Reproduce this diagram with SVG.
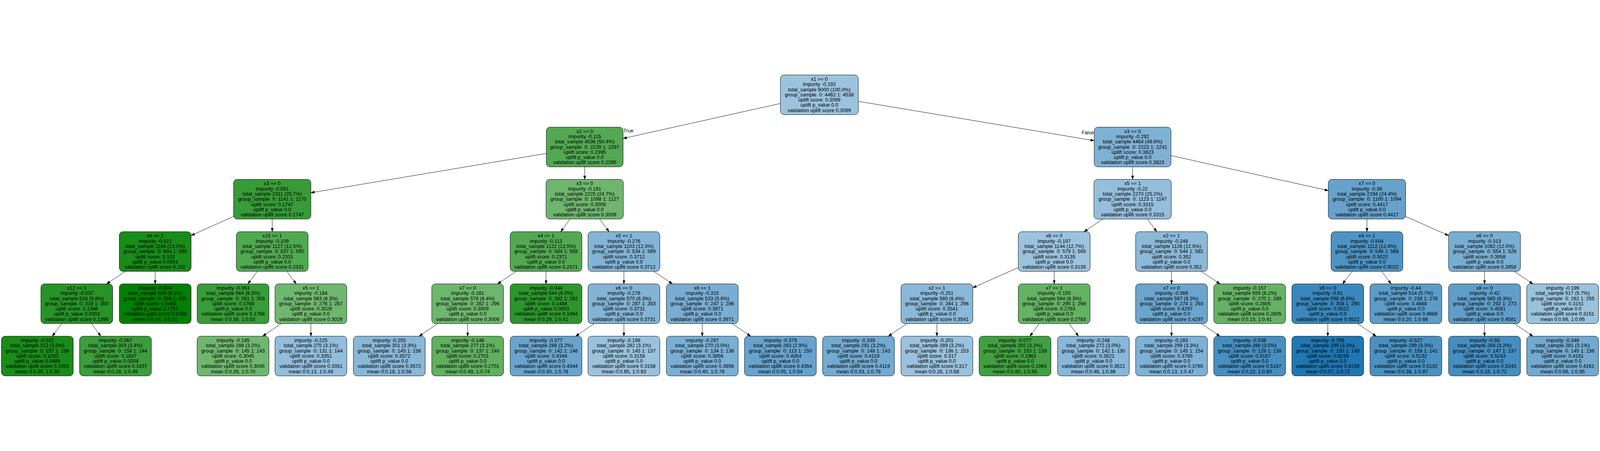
<svg xmlns="http://www.w3.org/2000/svg" width="6083" height="1155" viewBox="0 0 6083 1155">
<style>
svg:root{width:100vw;height:100vh}
.node rect{stroke:#000;stroke-width:1.4}
.node text,.elabel{font-family:"Liberation Sans",Arial,Helvetica,sans-serif;font-size:19px;fill:#000}
.node text{text-anchor:middle}
#edges line{stroke:#000;stroke-width:1.4;marker-end:url(#arr)}
</style>
<defs>
<marker id="arr" viewBox="0 0 14 10" refX="14" refY="5" markerWidth="14" markerHeight="10" markerUnits="userSpaceOnUse" orient="auto"><path d="M0,0.2 L14,5 L0,9.8 z" fill="#000" stroke="#000" stroke-width="1"/></marker>
</defs>
<rect width="6083" height="1155" fill="#fff"/>
<g id="edges">
<line x1="2967" y1="113.4" x2="2369" y2="246.5"/>
<line x1="3263" y1="105.2" x2="4160" y2="254.7"/>
<line x1="2077" y1="303.4" x2="1182" y2="452.9"/>
<line x1="2223" y1="354.5" x2="2223" y2="402"/>
<line x1="4306" y1="354.5" x2="4306" y2="402"/>
<line x1="4452" y1="311.5" x2="5050" y2="444.7"/>
<line x1="888" y1="543.1" x2="726.5" y2="615.6"/>
<line x1="1035" y1="553" x2="1035" y2="601"/>
<line x1="2167.1" y1="553" x2="2131.9" y2="601"/>
<line x1="2279.6" y1="553" x2="2315.4" y2="601"/>
<line x1="4192.6" y1="553" x2="4121.4" y2="601"/>
<line x1="4362.3" y1="553" x2="4397.7" y2="601"/>
<line x1="5197" y1="553" x2="5197" y2="601"/>
<line x1="5344" y1="542.8" x2="5507.5" y2="615.9"/>
<line x1="476.6" y1="752" x2="405.4" y2="799.5"/>
<line x1="590" y1="752" x2="590" y2="799.5"/>
<line x1="978.4" y1="752" x2="942.6" y2="799.5"/>
<line x1="1090.9" y1="752" x2="1126.1" y2="799.5"/>
<line x1="1962.6" y1="752" x2="1891.4" y2="799.5"/>
<line x1="2076" y1="752" x2="2076" y2="799.5"/>
<line x1="2372" y1="752" x2="2372" y2="799.5"/>
<line x1="2485.4" y1="752" x2="2556.6" y2="799.5"/>
<line x1="3871.5" y1="737.3" x2="3698.5" y2="814.2"/>
<line x1="4008" y1="752" x2="4008" y2="799.5"/>
<line x1="4454" y1="752" x2="4454" y2="799.5"/>
<line x1="4566.9" y1="752" x2="4638.1" y2="799.5"/>
<line x1="5140.4" y1="752" x2="5104.6" y2="799.5"/>
<line x1="5253.3" y1="752" x2="5288.7" y2="799.5"/>
<line x1="5644" y1="752" x2="5644" y2="799.5"/>
<line x1="5757" y1="752" x2="5828" y2="799.5"/>
<line x1="235" y1="950.5" x2="199" y2="998.5"/>
<line x1="347.9" y1="950.5" x2="383.1" y2="998.5"/>
<line x1="1069.4" y1="950.5" x2="998.6" y2="998.5"/>
<line x1="1182" y1="950.5" x2="1182" y2="998.5"/>
<line x1="1664.6" y1="950.5" x2="1593.4" y2="998.5"/>
<line x1="1778" y1="950.5" x2="1778" y2="998.5"/>
<line x1="2259.4" y1="950.5" x2="2188.6" y2="998.5"/>
<line x1="2372" y1="950.5" x2="2372" y2="998.5"/>
<line x1="2670" y1="950.5" x2="2670" y2="998.5"/>
<line x1="2783" y1="950.5" x2="2854" y2="998.5"/>
<line x1="3448.6" y1="950.5" x2="3377.4" y2="998.5"/>
<line x1="3562" y1="950.5" x2="3562" y2="998.5"/>
<line x1="3951.4" y1="950.5" x2="3915.6" y2="998.5"/>
<line x1="4064.6" y1="950.5" x2="4100.4" y2="998.5"/>
<line x1="4454" y1="950.5" x2="4454" y2="998.5"/>
<line x1="4567" y1="950.5" x2="4638" y2="998.5"/>
<line x1="5048" y1="950.5" x2="5048" y2="998.5"/>
<line x1="5161" y1="950.5" x2="5232" y2="998.5"/>
<line x1="5644" y1="950.5" x2="5644" y2="998.5"/>
<line x1="5757" y1="950.5" x2="5828" y2="998.5"/>
<text class="elabel" x="2370" y="223">True</text>
<text class="elabel" x="4159" y="231" text-anchor="end">False</text>
</g>

<g id="n0" class="node"><rect x="2967" y="5" width="296" height="151" rx="14" fill="#9cc3de"/><text x="3115" y="27.5"><tspan x="3115">x1 == 0</tspan><tspan x="3115" dy="19.7">impurity -0.192</tspan><tspan x="3115" dy="19.7">total_sample 9000 (100.0%)</tspan><tspan x="3115" dy="19.7">group_sample&#160; 0: 4462 1: 4538</tspan><tspan x="3115" dy="19.7">uplift score: 0.3099</tspan><tspan x="3115" dy="19.7">uplift p_value 0.0</tspan><tspan x="3115" dy="19.7">validation uplift score 0.3099</tspan></text></g>

<g id="n1a" class="node"><rect x="2077" y="203.5" width="292" height="151" rx="14" fill="#53a953"/><text x="2223" y="226"><tspan x="2223">x2 == 0</tspan><tspan x="2223" dy="19.7">impurity -0.115</tspan><tspan x="2223" dy="19.7">total_sample 4536 (50.4%)</tspan><tspan x="2223" dy="19.7">group_sample&#160; 0: 2239 1: 2297</tspan><tspan x="2223" dy="19.7">uplift score: 0.2395</tspan><tspan x="2223" dy="19.7">uplift p_value 0.0</tspan><tspan x="2223" dy="19.7">validation uplift score 0.2395</tspan></text></g>
<g id="n1b" class="node"><rect x="4160" y="203.5" width="292" height="151" rx="14" fill="#7fb1d4"/><text x="4306" y="226"><tspan x="4306">x3 == 0</tspan><tspan x="4306" dy="19.7">impurity -0.292</tspan><tspan x="4306" dy="19.7">total_sample 4464 (49.6%)</tspan><tspan x="4306" dy="19.7">group_sample&#160; 0: 2223 1: 2241</tspan><tspan x="4306" dy="19.7">uplift score: 0.3823</tspan><tspan x="4306" dy="19.7">uplift p_value 0.0</tspan><tspan x="4306" dy="19.7">validation uplift score 0.3823</tspan></text></g>

<g id="n2a" class="node"><rect x="888" y="402" width="294" height="151" rx="14" fill="#379b37"/><text x="1035" y="424.5"><tspan x="1035">x3 == 0</tspan><tspan x="1035" dy="19.7">impurity -0.061</tspan><tspan x="1035" dy="19.7">total_sample 2311 (25.7%)</tspan><tspan x="1035" dy="19.7">group_sample&#160; 0: 1141 1: 1170</tspan><tspan x="1035" dy="19.7">uplift score: 0.1747</tspan><tspan x="1035" dy="19.7">uplift p_value 0.0</tspan><tspan x="1035" dy="19.7">validation uplift score 0.1747</tspan></text></g>
<g id="n2b" class="node"><rect x="2076" y="402" width="294" height="151" rx="14" fill="#6db66d"/><text x="2223" y="424.5"><tspan x="2223">x3 == 0</tspan><tspan x="2223" dy="19.7">impurity -0.181</tspan><tspan x="2223" dy="19.7">total_sample 2225 (24.7%)</tspan><tspan x="2223" dy="19.7">group_sample&#160; 0: 1098 1: 1127</tspan><tspan x="2223" dy="19.7">uplift score: 0.3009</tspan><tspan x="2223" dy="19.7">uplift p_value 0.0</tspan><tspan x="2223" dy="19.7">validation uplift score 0.3009</tspan></text></g>
<g id="n2c" class="node"><rect x="4159" y="402" width="294" height="151" rx="14" fill="#94bedb"/><text x="4306" y="424.5"><tspan x="4306">x5 == 1</tspan><tspan x="4306" dy="19.7">impurity -0.22</tspan><tspan x="4306" dy="19.7">total_sample 2270 (25.2%)</tspan><tspan x="4306" dy="19.7">group_sample&#160; 0: 1123 1: 1147</tspan><tspan x="4306" dy="19.7">uplift score: 0.3315</tspan><tspan x="4306" dy="19.7">uplift p_value 0.0</tspan><tspan x="4306" dy="19.7">validation uplift score 0.3315</tspan></text></g>
<g id="n2d" class="node"><rect x="5050" y="402" width="294" height="151" rx="14" fill="#66a2cc"/><text x="5197" y="424.5"><tspan x="5197">x7 == 0</tspan><tspan x="5197" dy="19.7">impurity -0.39</tspan><tspan x="5197" dy="19.7">total_sample 2194 (24.4%)</tspan><tspan x="5197" dy="19.7">group_sample&#160; 0: 1100 1: 1094</tspan><tspan x="5197" dy="19.7">uplift score: 0.4417</tspan><tspan x="5197" dy="19.7">uplift p_value 0.0</tspan><tspan x="5197" dy="19.7">validation uplift score 0.4417</tspan></text></g>

<g id="n3a" class="node"><rect x="453.5" y="601" width="273" height="151" rx="14" fill="#188c18"/><text x="590" y="623.5"><tspan x="590">x4 == 1</tspan><tspan x="590" dy="19.7">impurity -0.021</tspan><tspan x="590" dy="19.7">total_sample 1184 (13.2%)</tspan><tspan x="590" dy="19.7">group_sample&#160; 0: 604 1: 580</tspan><tspan x="590" dy="19.7">uplift score: 0.102</tspan><tspan x="590" dy="19.7">uplift p_value 0.0001</tspan><tspan x="590" dy="19.7">validation uplift score 0.102</tspan></text></g>
<g id="n3b" class="node"><rect x="898.5" y="601" width="273" height="151" rx="14" fill="#50a850"/><text x="1035" y="623.5"><tspan x="1035">x15 == 1</tspan><tspan x="1035" dy="19.7">impurity -0.109</tspan><tspan x="1035" dy="19.7">total_sample 1127 (12.5%)</tspan><tspan x="1035" dy="19.7">group_sample&#160; 0: 537 1: 590</tspan><tspan x="1035" dy="19.7">uplift score: 0.2331</tspan><tspan x="1035" dy="19.7">uplift p_value 0.0</tspan><tspan x="1035" dy="19.7">validation uplift score 0.2331</tspan></text></g>
<g id="n3c" class="node"><rect x="1939.5" y="601" width="273" height="151" rx="14" fill="#52a952"/><text x="2076" y="623.5"><tspan x="2076">x4 == 1</tspan><tspan x="2076" dy="19.7">impurity -0.112</tspan><tspan x="2076" dy="19.7">total_sample 1122 (12.5%)</tspan><tspan x="2076" dy="19.7">group_sample&#160; 0: 564 1: 558</tspan><tspan x="2076" dy="19.7">uplift score: 0.2371</tspan><tspan x="2076" dy="19.7">uplift p_value 0.0</tspan><tspan x="2076" dy="19.7">validation uplift score 0.2371</tspan></text></g>
<g id="n3d" class="node"><rect x="2235.5" y="601" width="273" height="151" rx="14" fill="#83b4d6"/><text x="2372" y="623.5"><tspan x="2372">x5 == 1</tspan><tspan x="2372" dy="19.7">impurity -0.276</tspan><tspan x="2372" dy="19.7">total_sample 1103 (12.3%)</tspan><tspan x="2372" dy="19.7">group_sample&#160; 0: 534 1: 569</tspan><tspan x="2372" dy="19.7">uplift score: 0.3712</tspan><tspan x="2372" dy="19.7">uplift p_value 0.0</tspan><tspan x="2372" dy="19.7">validation uplift score 0.3712</tspan></text></g>
<g id="n3e" class="node"><rect x="3871.5" y="601" width="273" height="151" rx="14" fill="#9bc2de"/><text x="4008" y="623.5"><tspan x="4008">x6 == 0</tspan><tspan x="4008" dy="19.7">impurity -0.197</tspan><tspan x="4008" dy="19.7">total_sample 1144 (12.7%)</tspan><tspan x="4008" dy="19.7">group_sample&#160; 0: 579 1: 565</tspan><tspan x="4008" dy="19.7">uplift score: 0.3135</tspan><tspan x="4008" dy="19.7">uplift p_value 0.0</tspan><tspan x="4008" dy="19.7">validation uplift score 0.3135</tspan></text></g>
<g id="n3f" class="node"><rect x="4317.5" y="601" width="273" height="151" rx="14" fill="#8bb9d8"/><text x="4454" y="623.5"><tspan x="4454">x2 == 1</tspan><tspan x="4454" dy="19.7">impurity -0.248</tspan><tspan x="4454" dy="19.7">total_sample 1126 (12.5%)</tspan><tspan x="4454" dy="19.7">group_sample&#160; 0: 544 1: 582</tspan><tspan x="4454" dy="19.7">uplift score: 0.352</tspan><tspan x="4454" dy="19.7">uplift p_value 0.0</tspan><tspan x="4454" dy="19.7">validation uplift score 0.352</tspan></text></g>
<g id="n3g" class="node"><rect x="5060.5" y="601" width="273" height="151" rx="14" fill="#4e93c4"/><text x="5197" y="623.5"><tspan x="5197">x4 == 1</tspan><tspan x="5197" dy="19.7">impurity -0.504</tspan><tspan x="5197" dy="19.7">total_sample 1112 (12.4%)</tspan><tspan x="5197" dy="19.7">group_sample&#160; 0: 546 1: 566</tspan><tspan x="5197" dy="19.7">uplift score: 0.5022</tspan><tspan x="5197" dy="19.7">uplift p_value 0.0</tspan><tspan x="5197" dy="19.7">validation uplift score 0.5022</tspan></text></g>
<g id="n3h" class="node"><rect x="5507.5" y="601" width="273" height="151" rx="14" fill="#79aed2"/><text x="5644" y="623.5"><tspan x="5644">x6 == 0</tspan><tspan x="5644" dy="19.7">impurity -0.313</tspan><tspan x="5644" dy="19.7">total_sample 1082 (12.0%)</tspan><tspan x="5644" dy="19.7">group_sample&#160; 0: 554 1: 528</tspan><tspan x="5644" dy="19.7">uplift score: 0.3958</tspan><tspan x="5644" dy="19.7">uplift p_value 0.0</tspan><tspan x="5644" dy="19.7">validation uplift score 0.3958</tspan></text></g>

<g id="n4a" class="node"><rect x="155.5" y="799.5" width="273" height="151" rx="14" fill="#279327"/><text x="292" y="822"><tspan x="292">x12 == 1</tspan><tspan x="292" dy="19.7">impurity -0.037</tspan><tspan x="292" dy="19.7">total_sample 616 (6.8%)</tspan><tspan x="292" dy="19.7">group_sample&#160; 0: 316 1: 300</tspan><tspan x="292" dy="19.7">uplift score: 0.1366</tspan><tspan x="292" dy="19.7">uplift p_value 0.0003</tspan><tspan x="292" dy="19.7">validation uplift score 0.1366</tspan></text></g>
<g id="n4b" class="node"><rect x="453.5" y="799.5" width="273" height="151" rx="14" fill="#008000"/><text x="590" y="822"><tspan x="590">impurity -0.004</tspan><tspan x="590" dy="19.7">total_sample 568 (6.3%)</tspan><tspan x="590" dy="19.7">group_sample&#160; 0: 288 1: 280</tspan><tspan x="590" dy="19.7">uplift score: 0.0468</tspan><tspan x="590" dy="19.7">uplift p_value 0.1797</tspan><tspan x="590" dy="19.7">validation uplift score 0.0468</tspan><tspan x="590" dy="19.7">mean 0:0.18, 1:0.21</tspan></text></g>
<g id="n4c" class="node"><rect x="749.5" y="799.5" width="273" height="151" rx="14" fill="#389c38"/><text x="886" y="822"><tspan x="886">impurity -0.063</tspan><tspan x="886" dy="19.7">total_sample 564 (6.3%)</tspan><tspan x="886" dy="19.7">group_sample&#160; 0: 261 1: 303</tspan><tspan x="886" dy="19.7">uplift score: 0.1768</tspan><tspan x="886" dy="19.7">uplift p_value 0.0</tspan><tspan x="886" dy="19.7">validation uplift score 0.1768</tspan><tspan x="886" dy="19.7">mean 0:0.38, 1:0.53</tspan></text></g>
<g id="n4d" class="node"><rect x="1045.5" y="799.5" width="273" height="151" rx="14" fill="#6eb76e"/><text x="1182" y="822"><tspan x="1182">x5 == 1</tspan><tspan x="1182" dy="19.7">impurity -0.184</tspan><tspan x="1182" dy="19.7">total_sample 563 (6.3%)</tspan><tspan x="1182" dy="19.7">group_sample&#160; 0: 276 1: 287</tspan><tspan x="1182" dy="19.7">uplift score: 0.3029</tspan><tspan x="1182" dy="19.7">uplift p_value 0.0</tspan><tspan x="1182" dy="19.7">validation uplift score 0.3029</tspan></text></g>
<g id="n4e" class="node"><rect x="1641.5" y="799.5" width="273" height="151" rx="14" fill="#6db66d"/><text x="1778" y="822"><tspan x="1778">x7 == 0</tspan><tspan x="1778" dy="19.7">impurity -0.181</tspan><tspan x="1778" dy="19.7">total_sample 578 (6.4%)</tspan><tspan x="1778" dy="19.7">group_sample&#160; 0: 282 1: 296</tspan><tspan x="1778" dy="19.7">uplift score: 0.3009</tspan><tspan x="1778" dy="19.7">uplift p_value 0.0</tspan><tspan x="1778" dy="19.7">validation uplift score 0.3009</tspan></text></g>
<g id="n4f" class="node"><rect x="1939.5" y="799.5" width="273" height="151" rx="14" fill="#2c962c"/><text x="2076" y="822"><tspan x="2076">impurity -0.044</tspan><tspan x="2076" dy="19.7">total_sample 544 (6.0%)</tspan><tspan x="2076" dy="19.7">group_sample&#160; 0: 282 1: 262</tspan><tspan x="2076" dy="19.7">uplift score: 0.1484</tspan><tspan x="2076" dy="19.7">uplift p_value 0.0003</tspan><tspan x="2076" dy="19.7">validation uplift score 0.1484</tspan><tspan x="2076" dy="19.7">mean 0:0.29, 1:0.41</tspan></text></g>
<g id="n4g" class="node"><rect x="2235.5" y="799.5" width="273" height="151" rx="14" fill="#83b3d5"/><text x="2372" y="822"><tspan x="2372">x6 == 0</tspan><tspan x="2372" dy="19.7">impurity -0.278</tspan><tspan x="2372" dy="19.7">total_sample 570 (6.3%)</tspan><tspan x="2372" dy="19.7">group_sample&#160; 0: 287 1: 283</tspan><tspan x="2372" dy="19.7">uplift score: 0.3731</tspan><tspan x="2372" dy="19.7">uplift p_value 0.0</tspan><tspan x="2372" dy="19.7">validation uplift score 0.3731</tspan></text></g>
<g id="n4h" class="node"><rect x="2533.5" y="799.5" width="273" height="151" rx="14" fill="#79add2"/><text x="2670" y="822"><tspan x="2670">x8 == 1</tspan><tspan x="2670" dy="19.7">impurity -0.315</tspan><tspan x="2670" dy="19.7">total_sample 533 (5.9%)</tspan><tspan x="2670" dy="19.7">group_sample&#160; 0: 247 1: 286</tspan><tspan x="2670" dy="19.7">uplift score: 0.3971</tspan><tspan x="2670" dy="19.7">uplift p_value 0.0</tspan><tspan x="2670" dy="19.7">validation uplift score 0.3971</tspan></text></g>
<g id="n4i" class="node"><rect x="3425.5" y="799.5" width="273" height="151" rx="14" fill="#8ab8d8"/><text x="3562" y="822"><tspan x="3562">x2 == 1</tspan><tspan x="3562" dy="19.7">impurity -0.251</tspan><tspan x="3562" dy="19.7">total_sample 580 (6.4%)</tspan><tspan x="3562" dy="19.7">group_sample&#160; 0: 284 1: 296</tspan><tspan x="3562" dy="19.7">uplift score: 0.3541</tspan><tspan x="3562" dy="19.7">uplift p_value 0.0</tspan><tspan x="3562" dy="19.7">validation uplift score 0.3541</tspan></text></g>
<g id="n4j" class="node"><rect x="3871.5" y="799.5" width="273" height="151" rx="14" fill="#64b264"/><text x="4008" y="822"><tspan x="4008">x7 == 1</tspan><tspan x="4008" dy="19.7">impurity -0.155</tspan><tspan x="4008" dy="19.7">total_sample 564 (6.3%)</tspan><tspan x="4008" dy="19.7">group_sample&#160; 0: 295 1: 269</tspan><tspan x="4008" dy="19.7">uplift score: 0.2783</tspan><tspan x="4008" dy="19.7">uplift p_value 0.0</tspan><tspan x="4008" dy="19.7">validation uplift score 0.2783</tspan></text></g>
<g id="n4k" class="node"><rect x="4317.5" y="799.5" width="273" height="151" rx="14" fill="#6ba5ce"/><text x="4454" y="822"><tspan x="4454">x7 == 0</tspan><tspan x="4454" dy="19.7">impurity -0.369</tspan><tspan x="4454" dy="19.7">total_sample 567 (6.3%)</tspan><tspan x="4454" dy="19.7">group_sample&#160; 0: 274 1: 293</tspan><tspan x="4454" dy="19.7">uplift score: 0.4297</tspan><tspan x="4454" dy="19.7">uplift p_value 0.0</tspan><tspan x="4454" dy="19.7">validation uplift score 0.4297</tspan></text></g>
<g id="n4l" class="node"><rect x="4614.5" y="799.5" width="273" height="151" rx="14" fill="#65b265"/><text x="4751" y="822"><tspan x="4751">impurity -0.157</tspan><tspan x="4751" dy="19.7">total_sample 559 (6.2%)</tspan><tspan x="4751" dy="19.7">group_sample&#160; 0: 270 1: 289</tspan><tspan x="4751" dy="19.7">uplift score: 0.2805</tspan><tspan x="4751" dy="19.7">uplift p_value 0.0</tspan><tspan x="4751" dy="19.7">validation uplift score 0.2805</tspan><tspan x="4751" dy="19.7">mean 0:0.15, 1:0.41</tspan></text></g>
<g id="n4m" class="node"><rect x="4911.5" y="799.5" width="273" height="151" rx="14" fill="#3987bd"/><text x="5048" y="822"><tspan x="5048">x5 == 0</tspan><tspan x="5048" dy="19.7">impurity -0.61</tspan><tspan x="5048" dy="19.7">total_sample 598 (6.6%)</tspan><tspan x="5048" dy="19.7">group_sample&#160; 0: 308 1: 290</tspan><tspan x="5048" dy="19.7">uplift score: 0.5522</tspan><tspan x="5048" dy="19.7">uplift p_value 0.0</tspan><tspan x="5048" dy="19.7">validation uplift score 0.5522</tspan></text></g>
<g id="n4n" class="node"><rect x="5208.5" y="799.5" width="273" height="151" rx="14" fill="#5b9cc8"/><text x="5345" y="822"><tspan x="5345">impurity -0.44</tspan><tspan x="5345" dy="19.7">total_sample 514 (5.7%)</tspan><tspan x="5345" dy="19.7">group_sample&#160; 0: 238 1: 276</tspan><tspan x="5345" dy="19.7">uplift score: 0.4688</tspan><tspan x="5345" dy="19.7">uplift p_value 0.0</tspan><tspan x="5345" dy="19.7">validation uplift score 0.4688</tspan><tspan x="5345" dy="19.7">mean 0:0.20, 1:0.66</tspan></text></g>
<g id="n4o" class="node"><rect x="5507.5" y="799.5" width="273" height="151" rx="14" fill="#609eca"/><text x="5644" y="822"><tspan x="5644">x8 == 0</tspan><tspan x="5644" dy="19.7">impurity -0.42</tspan><tspan x="5644" dy="19.7">total_sample 565 (6.3%)</tspan><tspan x="5644" dy="19.7">group_sample&#160; 0: 292 1: 273</tspan><tspan x="5644" dy="19.7">uplift score: 0.4581</tspan><tspan x="5644" dy="19.7">uplift p_value 0.0</tspan><tspan x="5644" dy="19.7">validation uplift score 0.4581</tspan></text></g>
<g id="n4p" class="node"><rect x="5804.5" y="799.5" width="273" height="151" rx="14" fill="#9ac2dd"/><text x="5941" y="822"><tspan x="5941">impurity -0.199</tspan><tspan x="5941" dy="19.7">total_sample 517 (5.7%)</tspan><tspan x="5941" dy="19.7">group_sample&#160; 0: 262 1: 255</tspan><tspan x="5941" dy="19.7">uplift score: 0.3151</tspan><tspan x="5941" dy="19.7">uplift p_value 0.0</tspan><tspan x="5941" dy="19.7">validation uplift score 0.3151</tspan><tspan x="5941" dy="19.7">mean 0:0.66, 1:0.95</tspan></text></g>

<g id="n5a" class="node"><rect x="5.5" y="998.5" width="273" height="151" rx="14" fill="#188c18"/><text x="142" y="1021"><tspan x="142">impurity -0.022</tspan><tspan x="142" dy="19.7">total_sample 313 (3.5%)</tspan><tspan x="142" dy="19.7">group_sample&#160; 0: 157 1: 156</tspan><tspan x="142" dy="19.7">uplift score: 0.1053</tspan><tspan x="142" dy="19.7">uplift p_value 0.0485</tspan><tspan x="142" dy="19.7">validation uplift score 0.1053</tspan><tspan x="142" dy="19.7">mean 0:0.30, 1:0.38</tspan></text></g>
<g id="n5b" class="node"><rect x="302.5" y="998.5" width="273" height="151" rx="14" fill="#3b9d3b"/><text x="439" y="1021"><tspan x="439">impurity -0.067</tspan><tspan x="439" dy="19.7">total_sample 303 (3.4%)</tspan><tspan x="439" dy="19.7">group_sample&#160; 0: 159 1: 144</tspan><tspan x="439" dy="19.7">uplift score: 0.1837</tspan><tspan x="439" dy="19.7">uplift p_value 0.0008</tspan><tspan x="439" dy="19.7">validation uplift score 0.1837</tspan><tspan x="439" dy="19.7">mean 0:0.28, 1:0.49</tspan></text></g>
<g id="n5c" class="node"><rect x="749.5" y="998.5" width="273" height="151" rx="14" fill="#6fb76f"/><text x="886" y="1021"><tspan x="886">impurity -0.185</tspan><tspan x="886" dy="19.7">total_sample 288 (3.2%)</tspan><tspan x="886" dy="19.7">group_sample&#160; 0: 145 1: 143</tspan><tspan x="886" dy="19.7">uplift score: 0.3045</tspan><tspan x="886" dy="19.7">uplift p_value 0.0</tspan><tspan x="886" dy="19.7">validation uplift score 0.3045</tspan><tspan x="886" dy="19.7">mean 0:0.39, 1:0.70</tspan></text></g>
<g id="n5d" class="node"><rect x="1045.5" y="998.5" width="273" height="151" rx="14" fill="#92bddb"/><text x="1182" y="1021"><tspan x="1182">impurity -0.225</tspan><tspan x="1182" dy="19.7">total_sample 275 (3.1%)</tspan><tspan x="1182" dy="19.7">group_sample&#160; 0: 131 1: 144</tspan><tspan x="1182" dy="19.7">uplift score: 0.3351</tspan><tspan x="1182" dy="19.7">uplift p_value 0.0</tspan><tspan x="1182" dy="19.7">validation uplift score 0.3351</tspan><tspan x="1182" dy="19.7">mean 0:0.13, 1:0.49</tspan></text></g>
<g id="n5e" class="node"><rect x="1343.5" y="998.5" width="273" height="151" rx="14" fill="#89b7d7"/><text x="1480" y="1021"><tspan x="1480">impurity -0.255</tspan><tspan x="1480" dy="19.7">total_sample 301 (3.3%)</tspan><tspan x="1480" dy="19.7">group_sample&#160; 0: 145 1: 156</tspan><tspan x="1480" dy="19.7">uplift score: 0.3572</tspan><tspan x="1480" dy="19.7">uplift p_value 0.0</tspan><tspan x="1480" dy="19.7">validation uplift score 0.3572</tspan><tspan x="1480" dy="19.7">mean 0:0.18, 1:0.58</tspan></text></g>
<g id="n5f" class="node"><rect x="1641.5" y="998.5" width="273" height="151" rx="14" fill="#60b060"/><text x="1778" y="1021"><tspan x="1778">impurity -0.146</tspan><tspan x="1778" dy="19.7">total_sample 277 (3.1%)</tspan><tspan x="1778" dy="19.7">group_sample&#160; 0: 137 1: 140</tspan><tspan x="1778" dy="19.7">uplift score: 0.2701</tspan><tspan x="1778" dy="19.7">uplift p_value 0.0</tspan><tspan x="1778" dy="19.7">validation uplift score 0.2701</tspan><tspan x="1778" dy="19.7">mean 0:0.49, 1:0.74</tspan></text></g>
<g id="n5g" class="node"><rect x="1939.5" y="998.5" width="273" height="151" rx="14" fill="#69a4cd"/><text x="2076" y="1021"><tspan x="2076">impurity -0.377</tspan><tspan x="2076" dy="19.7">total_sample 288 (3.2%)</tspan><tspan x="2076" dy="19.7">group_sample&#160; 0: 142 1: 146</tspan><tspan x="2076" dy="19.7">uplift score: 0.4344</tspan><tspan x="2076" dy="19.7">uplift p_value 0.0</tspan><tspan x="2076" dy="19.7">validation uplift score 0.4344</tspan><tspan x="2076" dy="19.7">mean 0:0.30, 1:0.78</tspan></text></g>
<g id="n5h" class="node"><rect x="2235.5" y="998.5" width="273" height="151" rx="14" fill="#9ac2dd"/><text x="2372" y="1021"><tspan x="2372">impurity -0.199</tspan><tspan x="2372" dy="19.7">total_sample 282 (3.1%)</tspan><tspan x="2372" dy="19.7">group_sample&#160; 0: 145 1: 137</tspan><tspan x="2372" dy="19.7">uplift score: 0.3158</tspan><tspan x="2372" dy="19.7">uplift p_value 0.0</tspan><tspan x="2372" dy="19.7">validation uplift score 0.3158</tspan><tspan x="2372" dy="19.7">mean 0:0.65, 1:0.93</tspan></text></g>
<g id="n5i" class="node"><rect x="2533.5" y="998.5" width="273" height="151" rx="14" fill="#7aafd5"/><text x="2670" y="1021"><tspan x="2670">impurity -0.297</tspan><tspan x="2670" dy="19.7">total_sample 270 (3.0%)</tspan><tspan x="2670" dy="19.7">group_sample&#160; 0: 134 1: 136</tspan><tspan x="2670" dy="19.7">uplift score: 0.3856</tspan><tspan x="2670" dy="19.7">uplift p_value 0.0</tspan><tspan x="2670" dy="19.7">validation uplift score 0.3856</tspan><tspan x="2670" dy="19.7">mean 0:0.40, 1:0.78</tspan></text></g>
<g id="n5j" class="node"><rect x="2830.5" y="998.5" width="273" height="151" rx="14" fill="#67a3ce"/><text x="2967" y="1021"><tspan x="2967">impurity -0.379</tspan><tspan x="2967" dy="19.7">total_sample 263 (2.9%)</tspan><tspan x="2967" dy="19.7">group_sample&#160; 0: 113 1: 150</tspan><tspan x="2967" dy="19.7">uplift score: 0.4354</tspan><tspan x="2967" dy="19.7">uplift p_value 0.0</tspan><tspan x="2967" dy="19.7">validation uplift score 0.4354</tspan><tspan x="2967" dy="19.7">mean 0:0.05, 1:0.54</tspan></text></g>
<g id="n5k" class="node"><rect x="3127.5" y="998.5" width="273" height="151" rx="14" fill="#73aad0"/><text x="3264" y="1021"><tspan x="3264">impurity -0.339</tspan><tspan x="3264" dy="19.7">total_sample 291 (3.2%)</tspan><tspan x="3264" dy="19.7">group_sample&#160; 0: 148 1: 143</tspan><tspan x="3264" dy="19.7">uplift score: 0.4119</tspan><tspan x="3264" dy="19.7">uplift p_value 0.0</tspan><tspan x="3264" dy="19.7">validation uplift score 0.4119</tspan><tspan x="3264" dy="19.7">mean 0:0.33, 1:0.78</tspan></text></g>
<g id="n5l" class="node"><rect x="3425.5" y="998.5" width="273" height="151" rx="14" fill="#9ac1dd"/><text x="3562" y="1021"><tspan x="3562">impurity -0.201</tspan><tspan x="3562" dy="19.7">total_sample 289 (3.2%)</tspan><tspan x="3562" dy="19.7">group_sample&#160; 0: 136 1: 153</tspan><tspan x="3562" dy="19.7">uplift score: 0.317</tspan><tspan x="3562" dy="19.7">uplift p_value 0.0</tspan><tspan x="3562" dy="19.7">validation uplift score 0.317</tspan><tspan x="3562" dy="19.7">mean 0:0.28, 1:0.58</tspan></text></g>
<g id="n5m" class="node"><rect x="3722.5" y="998.5" width="273" height="151" rx="14" fill="#40a040"/><text x="3859" y="1021"><tspan x="3859">impurity -0.077</tspan><tspan x="3859" dy="19.7">total_sample 292 (3.2%)</tspan><tspan x="3859" dy="19.7">group_sample&#160; 0: 153 1: 139</tspan><tspan x="3859" dy="19.7">uplift score: 0.1963</tspan><tspan x="3859" dy="19.7">uplift p_value 0.0</tspan><tspan x="3859" dy="19.7">validation uplift score 0.1963</tspan><tspan x="3859" dy="19.7">mean 0:0.80, 1:0.95</tspan></text></g>
<g id="n5n" class="node"><rect x="4020.5" y="998.5" width="273" height="151" rx="14" fill="#87b7d9"/><text x="4157" y="1021"><tspan x="4157">impurity -0.248</tspan><tspan x="4157" dy="19.7">total_sample 272 (3.0%)</tspan><tspan x="4157" dy="19.7">group_sample&#160; 0: 142 1: 130</tspan><tspan x="4157" dy="19.7">uplift score: 0.3521</tspan><tspan x="4157" dy="19.7">uplift p_value 0.0</tspan><tspan x="4157" dy="19.7">validation uplift score 0.3521</tspan><tspan x="4157" dy="19.7">mean 0:0.46, 1:0.86</tspan></text></g>
<g id="n5o" class="node"><rect x="4317.5" y="998.5" width="273" height="151" rx="14" fill="#7eb1d6"/><text x="4454" y="1021"><tspan x="4454">impurity -0.283</tspan><tspan x="4454" dy="19.7">total_sample 299 (3.3%)</tspan><tspan x="4454" dy="19.7">group_sample&#160; 0: 145 1: 154</tspan><tspan x="4454" dy="19.7">uplift score: 0.3765</tspan><tspan x="4454" dy="19.7">uplift p_value 0.0</tspan><tspan x="4454" dy="19.7">validation uplift score 0.3765</tspan><tspan x="4454" dy="19.7">mean 0:0.13, 1:0.47</tspan></text></g>
<g id="n5p" class="node"><rect x="4614.5" y="998.5" width="273" height="151" rx="14" fill="#478fc1"/><text x="4751" y="1021"><tspan x="4751">impurity -0.538</tspan><tspan x="4751" dy="19.7">total_sample 268 (3.0%)</tspan><tspan x="4751" dy="19.7">group_sample&#160; 0: 129 1: 139</tspan><tspan x="4751" dy="19.7">uplift score: 0.5187</tspan><tspan x="4751" dy="19.7">uplift p_value 0.0</tspan><tspan x="4751" dy="19.7">validation uplift score 0.5187</tspan><tspan x="4751" dy="19.7">mean 0:0.22, 1:0.80</tspan></text></g>
<g id="n5q" class="node"><rect x="4911.5" y="998.5" width="273" height="151" rx="14" fill="#1f77b4"/><text x="5048" y="1021"><tspan x="5048">impurity -0.759</tspan><tspan x="5048" dy="19.7">total_sample 299 (3.3%)</tspan><tspan x="5048" dy="19.7">group_sample&#160; 0: 150 1: 149</tspan><tspan x="5048" dy="19.7">uplift score: 0.6159</tspan><tspan x="5048" dy="19.7">uplift p_value 0.0</tspan><tspan x="5048" dy="19.7">validation uplift score 0.6159</tspan><tspan x="5048" dy="19.7">mean 0:0.07, 1:0.72</tspan></text></g>
<g id="n5r" class="node"><rect x="5208.5" y="998.5" width="273" height="151" rx="14" fill="#4991c2"/><text x="5345" y="1021"><tspan x="5345">impurity -0.527</tspan><tspan x="5345" dy="19.7">total_sample 299 (3.3%)</tspan><tspan x="5345" dy="19.7">group_sample&#160; 0: 158 1: 141</tspan><tspan x="5345" dy="19.7">uplift score: 0.5132</tspan><tspan x="5345" dy="19.7">uplift p_value 0.0</tspan><tspan x="5345" dy="19.7">validation uplift score 0.5132</tspan><tspan x="5345" dy="19.7">mean 0:0.38, 1:0.87</tspan></text></g>
<g id="n5s" class="node"><rect x="5507.5" y="998.5" width="273" height="151" rx="14" fill="#458ec1"/><text x="5644" y="1021"><tspan x="5644">impurity -0.55</tspan><tspan x="5644" dy="19.7">total_sample 284 (3.2%)</tspan><tspan x="5644" dy="19.7">group_sample&#160; 0: 147 1: 137</tspan><tspan x="5644" dy="19.7">uplift score: 0.5243</tspan><tspan x="5644" dy="19.7">uplift p_value 0.0</tspan><tspan x="5644" dy="19.7">validation uplift score 0.5243</tspan><tspan x="5644" dy="19.7">mean 0:0.15, 1:0.72</tspan></text></g>
<g id="n5t" class="node"><rect x="5804.5" y="998.5" width="273" height="151" rx="14" fill="#71a9cf"/><text x="5941" y="1021"><tspan x="5941">impurity -0.346</tspan><tspan x="5941" dy="19.7">total_sample 281 (3.1%)</tspan><tspan x="5941" dy="19.7">group_sample&#160; 0: 145 1: 136</tspan><tspan x="5941" dy="19.7">uplift score: 0.4161</tspan><tspan x="5941" dy="19.7">uplift p_value 0.0</tspan><tspan x="5941" dy="19.7">validation uplift score 0.4161</tspan><tspan x="5941" dy="19.7">mean 0:0.56, 1:0.95</tspan></text></g>
</svg>
